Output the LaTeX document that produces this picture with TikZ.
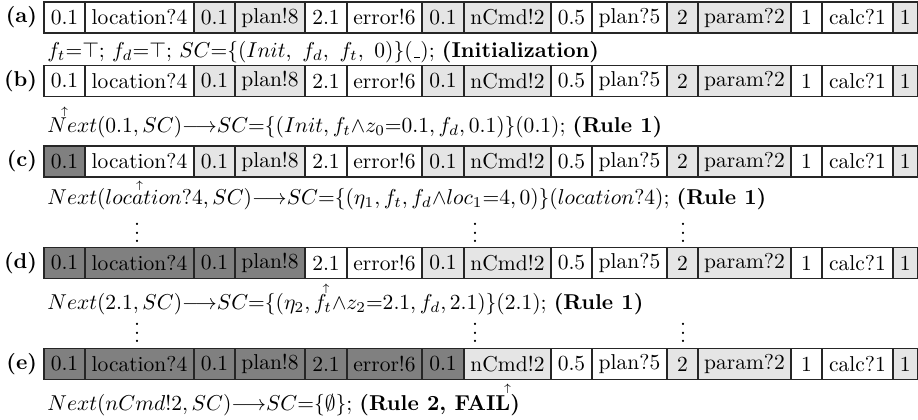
\documentclass[tikz,border=0pt]{standalone}
\usepackage{amssymb}
\usetikzlibrary{positioning}
\colorlet{cell edge}{black!85}
\colorlet{cell light}{black!10}
\colorlet{cell dark}{black!50}
\tikzset{cell/.style={draw=cell edge, line width=0.5pt, minimum height=14.4pt, inner sep=0pt},
	blank/.style={fill=white},
	lite/.style={fill=cell light},
	dark/.style={fill=cell dark},
	tag/.style={font=\bfseries, inner sep=0pt},
	trace/.style={anchor=base west, inner sep=0pt},
	ptr/.style={inner sep=0pt, font=\tiny},
	skip/.style={inner sep=0pt}}
% number / left edge / right edge / text of each cell (in px)
\def\cells{1/44/85/0.1, 2/85/194/location?4, 3/194/235/0.1, 4/235/305/plan!8,
	5/305/347/2.1, 6/347/422/error!6, 7/422/464/0.1, 8/464/551/nCmd!2,
	9/551/592/0.5, 10/592/667/plan?5, 11/667/698/2, 12/698/791/param?2,
	13/791/822/1, 14/822/893/calc?1, 15/893/917.5/1}
% \tape{name}{y}{number of consumed cells}
\newcommand\tape[3]{%
	\foreach \i/\xl/\xr/\txt in \cells {
		\pgfmathtruncatemacro\grp{mod(\i-1,4)}
		\ifnum\i>#3 \ifnum\grp>1 \def\cellkind{lite}\else\def\cellkind{blank}\fi
		\else \def\cellkind{dark}\fi
		\pgfmathsetmacro\cw{(\xr-\xl)*0.465}
		\node[cell, \cellkind, minimum width=\cw pt] (#1\i) at ({(\xl+\xr)/2}, #2) {\txt};
	}
}
\def\blank{\mbox{\kern.06em\vbox{\hrule width.3em}}}

\begin{document}
\begin{tikzpicture}[x=0.465pt, y=-0.465pt]
\useasboundingbox (0,0) rectangle (918,419);

\tape{a}{17.5}{0}
\tape{b}{81}{0}
\tape{c}{161.5}{1}
\tape{d}{263}{4}
\tape{e}{364}{7}

\node[tag, left=2.8pt of a1] (la) {(a)};
\node[tag, left=2.8pt of b1] (lb) {(b)};
\node[tag, left=2.8pt of c1] (lc) {(c)};
\node[tag, left=2.8pt of d1] (ld) {(d)};
\node[tag, left=2.8pt of e1] (le) {(e)};

\node[trace] (ta) at (47,57.5) {$f_t{=}\top$; $f_d{=}\top$; $SC{=}\{(Init,\ f_d,\ f_t,\ 0)\}(\blank)$; \textbf{(Initialization)}};
\node[trace] (tb) at (47,132.5) {$Next(0.1, SC){\longrightarrow}SC{=}\{(Init, f_t{\wedge}z_0{=}0.1, f_d, 0.1)\}(0.1)$; \textbf{(Rule 1)}};
\node[trace] (tc) at (47,204.5) {$Next(location?4, SC){\longrightarrow}SC{=}\{(\eta_1, f_t, f_d{\wedge}loc_1{=}4, 0)\}(location?4)$; \textbf{(Rule 1)}};
\node[trace] (td) at (47,309.5) {$Next(2.1, SC){\longrightarrow}SC{=}\{(\eta_2, f_t{\wedge}z_2{=}2.1, f_d, 2.1)\}(2.1)$; \textbf{(Rule 1)}};
\node[trace] (te) at (47,410.5) {$Next(nCmd!2, SC){\longrightarrow}SC{=}\{\emptyset\}$; \textbf{(Rule 2, FAIL)}};

% read head
\node[ptr, below=4.4pt of b1] (pb) {$\uparrow$};
\node[ptr, below=1.4pt of c2] (pc) {$\uparrow$};
\node[ptr, below=2.1pt of d5] (pd) {$\uparrow$};
\node[ptr, below=1.6pt of e8] (pe) {$\uparrow$};

% skipped steps
\node[skip] (v1) at (137,226.5) {$\vdots$};
\node[skip] (v2) at (475,226.5) {$\vdots$};
\node[skip] (v3) at (683,226.5) {$\vdots$};
\node[skip] (v4) at (137,326.5) {$\vdots$};
\node[skip] (v5) at (475,326.5) {$\vdots$};
\node[skip] (v6) at (683,326.5) {$\vdots$};

\end{tikzpicture}
\end{document}
